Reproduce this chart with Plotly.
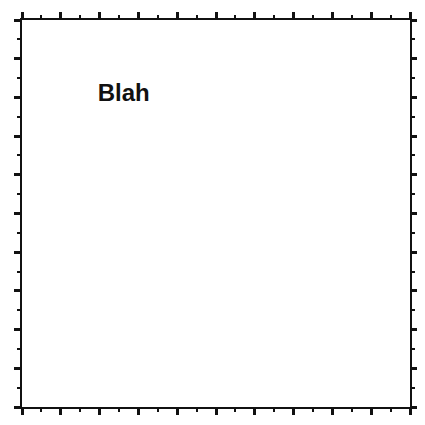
import plotly.graph_objects as go

x_range = [0, 10]
y_range = [0, 10]
label_text = ["Blah"]
label_x = [2.62]
label_y = [8.05]

fig = go.Figure()
fig.add_trace(go.Scatter(x=label_x, y=label_y, mode="text", text=label_text,
                         textfont=dict(family="Liberation Sans, Arial", size=24, color="#111", weight="bold"),
                         textposition="middle center", hoverinfo="skip", showlegend=False))

axis_common = dict(
    showgrid=False, zeroline=False, showticklabels=False,
    showline=True, linecolor="#111", linewidth=2,
    mirror="ticks", ticks="outside", ticklen=6, tickwidth=3, tickcolor="#111",
    dtick=1, tick0=0, automargin=False,
    minor=dict(ticks="outside", ticklen=3, tickwidth=2, tickcolor="#111", dtick=0.5, tick0=0),
)
fig.update_xaxes(range=x_range, **axis_common)
fig.update_yaxes(range=y_range, **axis_common)
fig.update_layout(
    width=425, height=425,
    margin=dict(l=14, r=23, t=12, b=26),
    plot_bgcolor="white", paper_bgcolor="white",
)
fig.write_html("out.html")
